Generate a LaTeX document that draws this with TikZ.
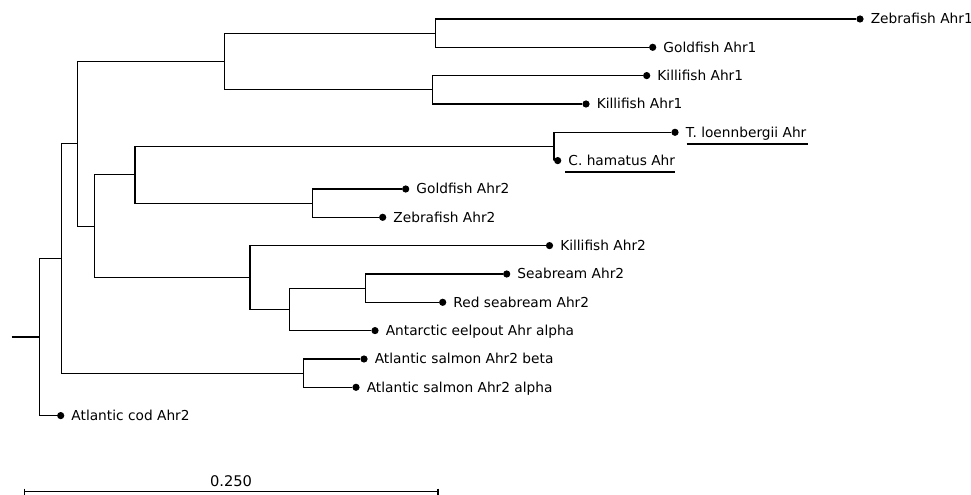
\documentclass[tikz,border=0pt]{standalone}
\usepackage{fontspec}
\setmainfont{DejaVu Sans}
\usetikzlibrary{calc}
\begin{document}
\begin{tikzpicture}[x=0.75pt,y=-0.75pt,
  br/.style={line width=0.85pt, black},
  leafdot/.style={circle, fill=black, inner sep=0pt, minimum size=5.4pt},
  lab/.style={anchor=base west, inner sep=0pt, font=\fontsize{10.3pt}{12pt}\selectfont},
  ul/.style={line width=1.6pt, black},
  scalebar/.style={line width=0.85pt, black}
]
\useasboundingbox (0,0) rectangle (971,495);
\newcommand\tleaf[4]{\node[leafdot] (#1) at (#2,#3) {}; \node[lab] (#1t) at ($(#1)+(10.5,4.8)$) {#4};}
% leaves
\tleaf{l1}{860}{19}{Zebrafish Ahr1}
\tleaf{l2}{652.7}{47.3}{Goldfish Ahr1}
\tleaf{l3}{646.7}{75.6}{Killifish Ahr1}
\tleaf{l4}{586}{104}{Killifish Ahr1}
\tleaf{l5}{675}{132.3}{T. loennbergii Ahr}
\tleaf{l6}{557.7}{160.6}{C. hamatus Ahr}
\tleaf{l7}{405.7}{189}{Goldfish Ahr2}
\tleaf{l8}{382.7}{217.3}{Zebrafish Ahr2}
\tleaf{l9}{549.5}{245.6}{Killifish Ahr2}
\tleaf{l10}{506.7}{274}{Seabream Ahr2}
\tleaf{l11}{442.7}{302.3}{Red seabream Ahr2}
\tleaf{l12}{375}{330.6}{Antarctic eelpout Ahr alpha}
\tleaf{l13}{364}{359}{Atlantic salmon Ahr2 beta}
\tleaf{l14}{356}{387.3}{Atlantic salmon Ahr2 alpha}
\tleaf{l15}{60.7}{415.6}{Atlantic cod Ahr2}
% internal nodes
\coordinate (n12) at (435.7,33.15);
\coordinate (n34) at (432.7,89.8);
\coordinate (nA) at (224.3,61.5);
\coordinate (n56) at (554,146.45);
\coordinate (n78) at (312.7,203.15);
\coordinate (nB) at (135,174.8);
\coordinate (n1011) at (365.3,288.15);
\coordinate (n1012) at (289.7,309.4);
\coordinate (n9) at (250,277.5);
\coordinate (nC) at (94.3,226.15);
\coordinate (nD) at (77.3,143.8);
\coordinate (n1314) at (303.7,373.15);
\coordinate (nE) at (61.7,258.5);
\coordinate (root) at (39.7,337.05);
\coordinate (stub) at (11.7,337.05);
% branches
\draw[br] (n12) |- (l1); \draw[br] (n12) |- (l2);
\draw[br] (n34) |- (l3); \draw[br] (n34) |- (l4);
\draw[br] (nA) |- (n12); \draw[br] (nA) |- (n34);
\draw[br] (n56) |- (l5); \draw[br] (n56) |- (l6);
\draw[br] (n78) |- (l7); \draw[br] (n78) |- (l8);
\draw[br] (nB) |- (n56); \draw[br] (nB) |- (n78);
\draw[br] (n1011) |- (l10); \draw[br] (n1011) |- (l11);
\draw[br] (n1012) |- (n1011); \draw[br] (n1012) |- (l12);
\draw[br] (n9) |- (l9); \draw[br] (n9) |- (n1012);
\draw[br] (nC) |- (nB); \draw[br] (nC) |- (n9);
\draw[br] (nD) |- (nA); \draw[br] (nD) |- (nC);
\draw[br] (n1314) |- (l13); \draw[br] (n1314) |- (l14);
\draw[br] (nE) |- (nD); \draw[br] (nE) |- (n1314);
\draw[br] (root) |- (nE); \draw[br] (root) |- (l15);
\draw[br] (stub) -- (root);
% underlines
\draw[ul] ($(l5t.base west)+(1,6.5)$) -- ($(l5t.base east)+(1,6.5)$);
\draw[ul] ($(l6t.base west)+(-3,6.5)$) -- ($(l6t.base east)+(0,6.5)$);
% scale bar
\coordinate (sbL) at (24.3,491.7);
\coordinate (sbR) at (438,491.7);
\draw[scalebar] (sbL) -- (sbR);
\draw[scalebar] ($(sbL)+(0,-3)$) -- ($(sbL)+(0,3)$);
\draw[scalebar] ($(sbR)+(0,-3)$) -- ($(sbR)+(0,3)$);
\node[lab, anchor=base, font=\fontsize{11pt}{13pt}\selectfont] (sbt) at (231,486.5) {0.250};
\end{tikzpicture}
\end{document}
